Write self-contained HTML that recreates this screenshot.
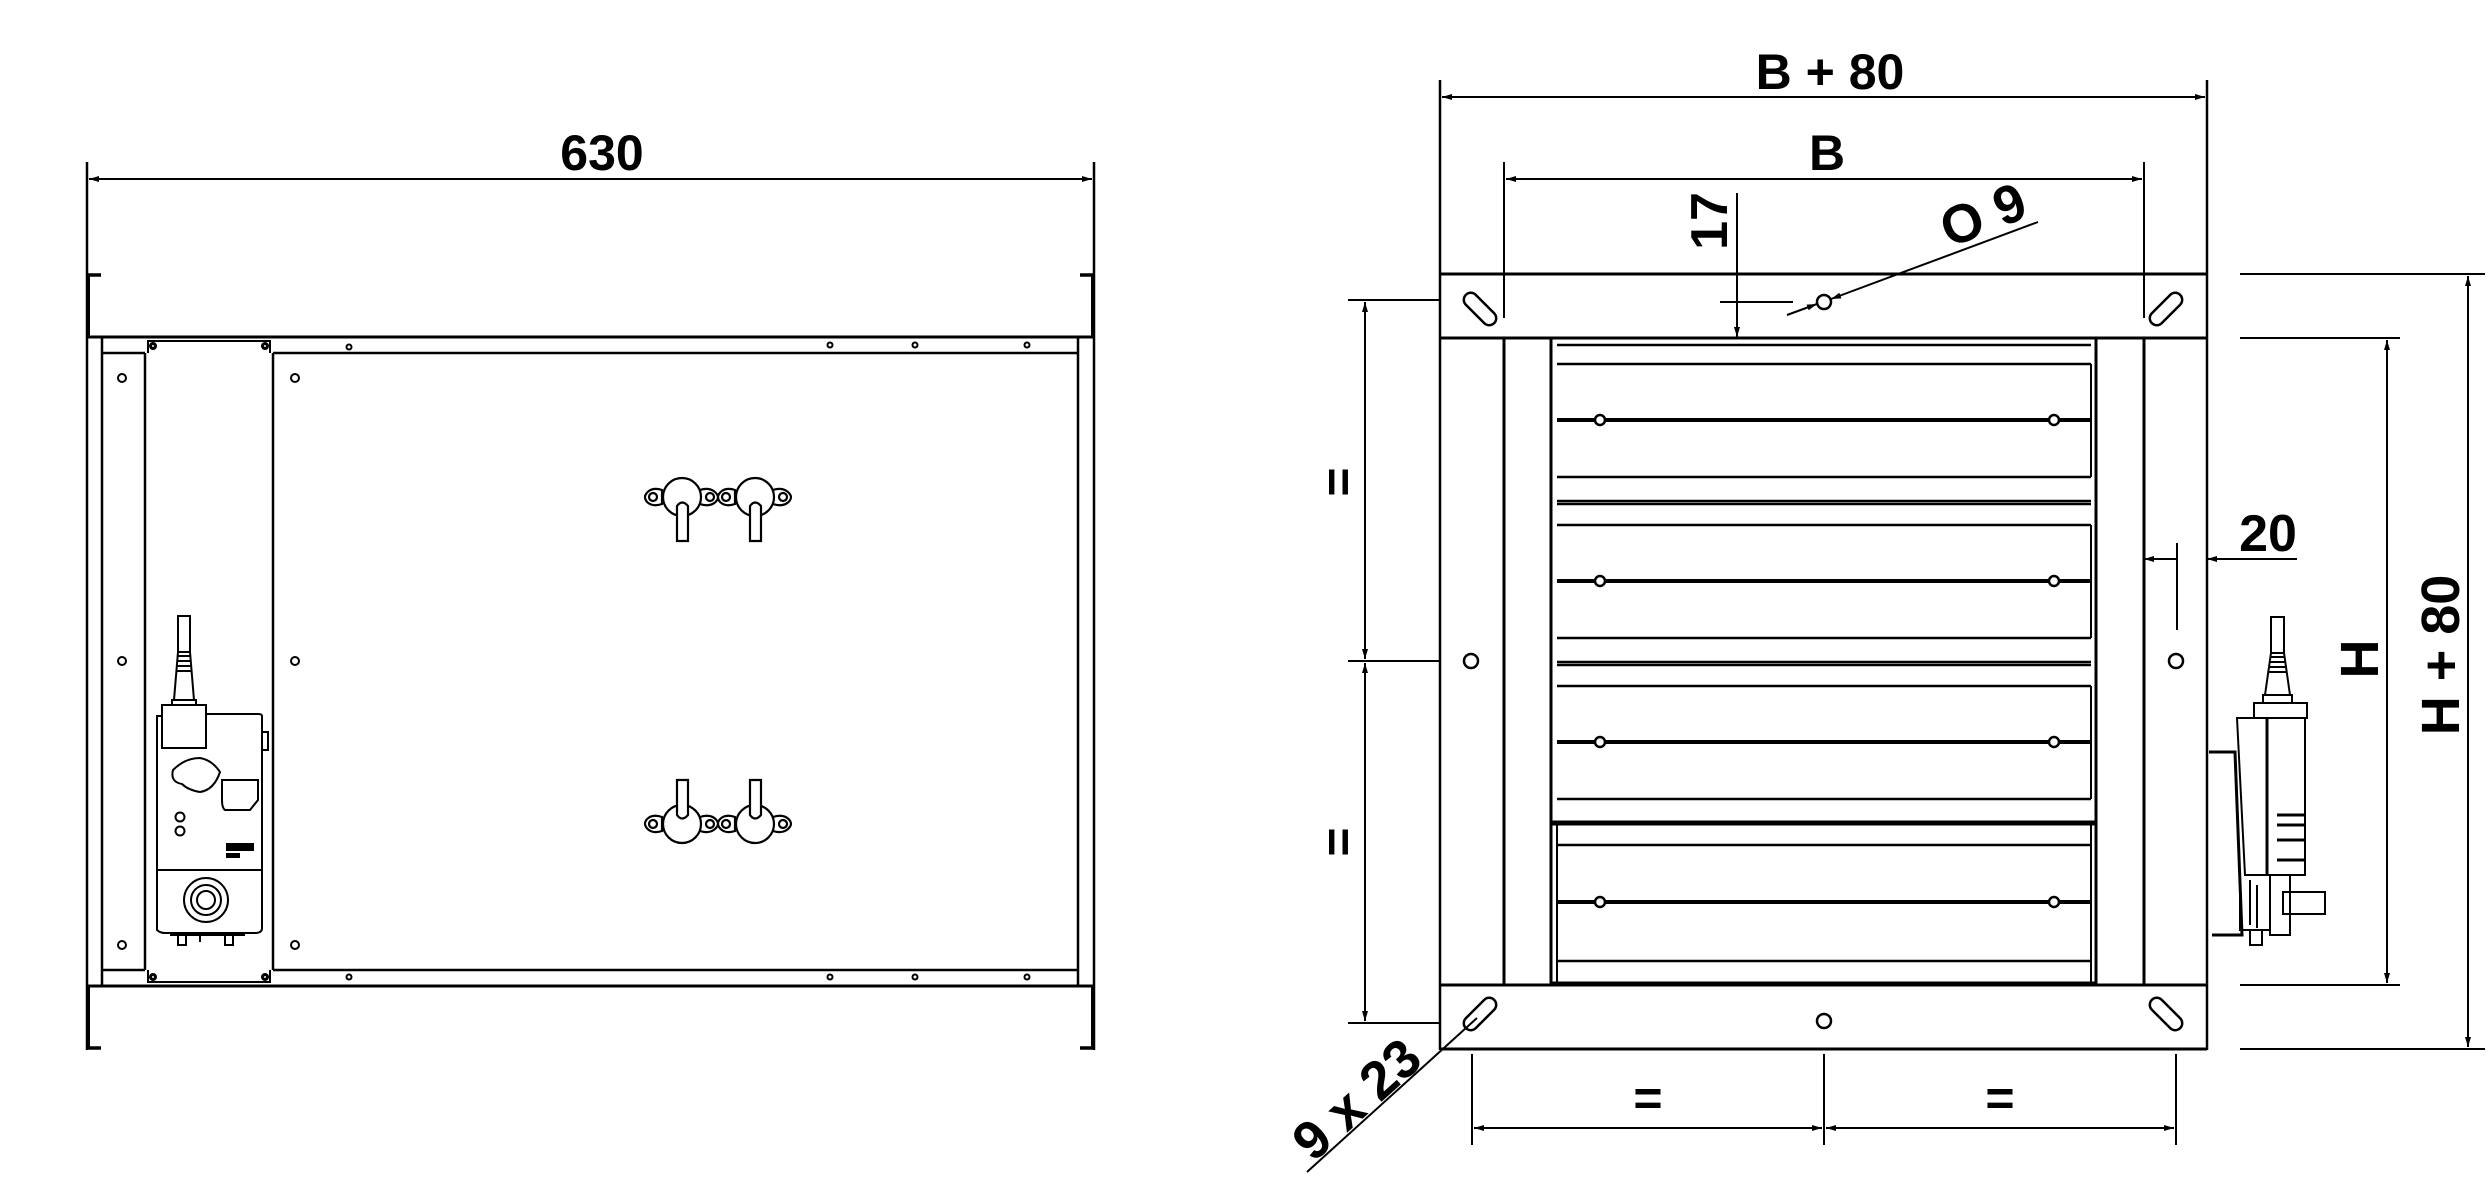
<!DOCTYPE html>
<html><head><meta charset="utf-8"><style>
html,body{margin:0;padding:0;background:#fff;}
svg{display:block;}
text{font-family:"Liberation Sans",sans-serif;font-weight:bold;fill:#000;}
</style></head><body>
<svg width="2490" height="1179" viewBox="0 0 2490 1179" xmlns="http://www.w3.org/2000/svg">
<defs>
<marker id="a" viewBox="0 0 10 6" refX="10" refY="3" markerWidth="16" markerHeight="6" markerUnits="userSpaceOnUse" orient="auto-start-reverse"><path d="M0,0 L10,3 L0,6 z" fill="#000"/></marker>
</defs>
<g stroke="#000" stroke-width="2.5" fill="none">
<!-- ===== LEFT VIEW ===== -->
<line x1="87" y1="162" x2="87" y2="1050"/>
<line x1="1094" y1="162" x2="1094" y2="1050"/>
<line x1="89" y1="179" x2="1092" y2="179" stroke-width="2" marker-start="url(#a)" marker-end="url(#a)"/>
<path d="M87,275 H101 M87,1048 H101 M1094,275 H1080 M1094,1048 H1080" stroke-width="3.5"/>
<line x1="88" y1="275" x2="88" y2="337" stroke-width="4"/>
<line x1="1093" y1="275" x2="1093" y2="337" stroke-width="4"/>
<line x1="88" y1="986" x2="88" y2="1048" stroke-width="4"/>
<line x1="1093" y1="986" x2="1093" y2="1048" stroke-width="4"/>
<line x1="87" y1="337" x2="1094" y2="337" stroke-width="3"/>
<line x1="87" y1="986" x2="1094" y2="986" stroke-width="3"/>
<line x1="102" y1="337" x2="102" y2="986"/>
<line x1="1078" y1="337" x2="1078" y2="986"/>
<path d="M102,353 H145 M273,353 H1078 M102,970 H145 M273,970 H1078"/>
<path d="M145,353 V970 M273,353 V970"/>
<path d="M148,353 V341 H270 V353 M148,970 V982 H270 V970" stroke-width="2"/>
<g stroke-width="2">
<circle cx="122" cy="378" r="4"/><circle cx="122" cy="661" r="4"/><circle cx="122" cy="945" r="4"/>
<circle cx="295" cy="378" r="4"/><circle cx="295" cy="661" r="4"/><circle cx="295" cy="945" r="4"/>
<circle cx="349" cy="347" r="2.5"/><circle cx="830" cy="345" r="2.5"/><circle cx="915" cy="345" r="2.5"/><circle cx="1027" cy="345" r="2.5"/>
<circle cx="349" cy="977" r="2.5"/><circle cx="830" cy="977" r="2.5"/><circle cx="915" cy="977" r="2.5"/><circle cx="1027" cy="977" r="2.5"/>
<circle cx="153" cy="346" r="2.5" stroke-width="3"/><circle cx="265" cy="346" r="2.5" stroke-width="3"/>
<circle cx="153" cy="977" r="2.5" stroke-width="3"/><circle cx="265" cy="977" r="2.5" stroke-width="3"/>
</g>
<!-- knobs -->
<g id="k" stroke-width="2.2">
<path d="M662,490 C650,486 645,494 645,497 C645,501 650,508 662,504 Z M700,490 C712,486 718,494 718,497 C718,501 712,508 700,504 Z" fill="#fff"/>
<circle cx="653" cy="497" r="4"/><circle cx="710" cy="497" r="4"/>
<circle cx="682" cy="497" r="19" fill="#fff"/>
<path d="M677,541 V506 Q682,499 688,506 V541 Z" fill="#fff"/>
</g>
<use href="#k" x="73"/>
<g transform="translate(0,1321) scale(1,-1)"><use href="#k"/><use href="#k" x="73"/></g>
<!-- actuator left -->
<g stroke-width="2">
<rect x="178" y="616" width="12" height="36"/>
<path d="M178,652 H190 L194,700 H174 Z"/>
<path d="M178,656 H190 M177,661 H191 M177,666 H191 M176,671 H192"/>
<path d="M172,700 H196 V705 H172 Z"/>
<rect x="162" y="705" width="44" height="43"/>
<path d="M162,716 H157 V930 Q160,933 165,933 H255 Q262,933 262,928 V716 Q262,714 258,714 H206"/>
<path d="M262,732 H268 V750 H262"/>
<path d="M173,770 Q185,758 200,758 Q212,760 220,772 Q214,790 200,792 Q188,790 182,784 Q170,782 173,770 Z"/>
<path d="M222,780 H258 V800 L250,810 H225 Q222,808 222,800 Z"/>
<circle cx="180" cy="817" r="4.5"/><circle cx="180" cy="831" r="4.5"/>
<path d="M157,870 H262"/>
<circle cx="206" cy="900" r="22"/><circle cx="206" cy="900" r="15"/><circle cx="206" cy="900" r="9"/>
<path d="M170,935 H245 M178,935 V945 H186 V935 M200,935 V942 M225,935 V945 H233 V935"/>
</g>
<rect x="226" y="843" width="28" height="8" fill="#000" stroke="none"/>
<rect x="226" y="853" width="14" height="5" fill="#000" stroke="none"/>
<!-- ===== RIGHT VIEW ===== -->
<line x1="1440" y1="80" x2="1440" y2="1050"/>
<line x1="2207" y1="80" x2="2207" y2="1050"/>
<line x1="1442" y1="97" x2="2205" y2="97" stroke-width="2" marker-start="url(#a)" marker-end="url(#a)"/>
<line x1="1504" y1="162" x2="1504" y2="318" stroke-width="2"/>
<line x1="2144" y1="162" x2="2144" y2="318" stroke-width="2"/>
<line x1="1506" y1="179" x2="2142" y2="179" stroke-width="2" marker-start="url(#a)" marker-end="url(#a)"/>
<path d="M1440,274 H2207 M1440,338 H2207 M1440,985 H2207 M1440,1049 H2207" stroke-width="3"/>
<path d="M1504,338 V985 M2144,338 V985" stroke-width="3"/>
<path d="M1551,338 V985 M2096,338 V985" stroke-width="3"/>
<path d="M1557,345 H2091 M1557,364 H2091" stroke-width="2.5"/>
<g stroke-width="2.5">
<path d="M1557,477 H2091 M1557,525 H2091 M1557,638 H2091 M1557,686 H2091 M1557,799 H2091 M1557,845 H2091 M1557,961 H2091"/>
<path d="M1557,501 H2091 M1557,504 H2091 M1557,662 H2091 M1557,665 H2091" stroke-width="2.5"/>
<path d="M1551,823 H2096" stroke-width="5"/>
<path d="M1557,823 V985 M2091,823 V985 M2091,364 V477 M2091,525 V638 M2091,686 V799" stroke-width="2"/>
<path d="M1551,984 H2096" stroke-width="5"/>
<path d="M1557,420 H2091 M1557,581 H2091 M1557,742 H2091 M1557,902 H2091" stroke-width="4"/>
</g>
<g stroke-width="2.5" fill="#fff">
<circle cx="1600" cy="420" r="5"/><circle cx="2054" cy="420" r="5"/>
<circle cx="1600" cy="581" r="5"/><circle cx="2054" cy="581" r="5"/>
<circle cx="1600" cy="742" r="5"/><circle cx="2054" cy="742" r="5"/>
<circle cx="1600" cy="902" r="5"/><circle cx="2054" cy="902" r="5"/>
</g>
<!-- slots -->
<g stroke-width="2.5">
<rect x="-20" y="-7" width="40" height="14" rx="7" transform="translate(1480,309) rotate(45)"/>
<rect x="-20" y="-7" width="40" height="14" rx="7" transform="translate(2166,309) rotate(-45)"/>
<rect x="-20" y="-7" width="40" height="14" rx="7" transform="translate(1480,1014) rotate(-45)"/>
<rect x="-20" y="-7" width="40" height="14" rx="7" transform="translate(2166,1014) rotate(45)"/>
<circle cx="1471" cy="661" r="7"/><circle cx="2176" cy="661" r="7"/>
<circle cx="1824" cy="1021" r="7"/><circle cx="1824" cy="302" r="7"/>
</g>
<!-- dims -->
<g stroke-width="2">
<path d="M1348,300 H1440 M1348,661 H1440 M1348,1023 H1440"/>
<line x1="1365" y1="302" x2="1365" y2="659" marker-start="url(#a)" marker-end="url(#a)"/>
<line x1="1365" y1="663" x2="1365" y2="1021" marker-start="url(#a)" marker-end="url(#a)"/>
<path d="M1472,1054 V1145 M1824,1054 V1145 M2176,1054 V1145"/>
<line x1="1474" y1="1128" x2="1822" y2="1128" marker-start="url(#a)" marker-end="url(#a)"/>
<line x1="1826" y1="1128" x2="2174" y2="1128" marker-start="url(#a)" marker-end="url(#a)"/>
<path d="M2240,274 H2485 M2240,1049 H2485 M2240,338 H2400 M2240,985 H2400"/>
<line x1="2387" y1="340" x2="2387" y2="983" marker-start="url(#a)" marker-end="url(#a)"/>
<line x1="2468" y1="276" x2="2468" y2="1047" marker-start="url(#a)" marker-end="url(#a)"/>
<line x1="2144" y1="559" x2="2177" y2="559" marker-start="url(#a)"/>
<line x1="2207" y1="559" x2="2297" y2="559" marker-start="url(#a)"/>
<line x1="2177" y1="543" x2="2177" y2="630"/>
<line x1="1737" y1="193" x2="1737" y2="337" marker-end="url(#a)"/>
<line x1="1720" y1="302" x2="1793" y2="302"/>
<line x1="2038" y1="222" x2="1831" y2="299" marker-end="url(#a)"/>
<line x1="1787" y1="315" x2="1817" y2="304" marker-end="url(#a)"/>
<line x1="1307" y1="1172" x2="1477" y2="1018"/>
</g>
<!-- actuator right -->
<g stroke-width="2">
<rect x="2271" y="617" width="13" height="36"/>
<path d="M2271,653 H2284 L2290,695 H2265 Z"/>
<path d="M2270,657 H2285 M2269,662 H2286 M2269,667 H2286 M2268,672 H2287"/>
<path d="M2263,695 H2292 V703 H2263 Z"/>
<rect x="2254" y="703" width="53" height="15"/>
<path d="M2237,718 H2305 V875 H2245 Z"/>
<line x1="2267" y1="718" x2="2267" y2="875" stroke-width="3"/>
<path d="M2209,752 H2235 L2242,935 H2212" stroke-width="3"/>
<path d="M2277,815 H2305 M2277,825 H2305 M2277,840 H2305 M2277,860 H2305" stroke-width="3"/>
<path d="M2240,875 V930 H2270 V875 M2270,875 V935 H2290 V875"/>
<rect x="2283" y="892" width="42" height="22"/>
<path d="M2250,880 V925 M2257,885 V928 M2244,930 H2262 V945 H2250 V930"/>
</g>
</g>
<!-- TEXT -->
<text x="602" y="170" font-size="50" text-anchor="middle">630</text>
<text x="1830" y="89" font-size="50" text-anchor="middle">B + 80</text>
<text x="1827" y="170" font-size="50" text-anchor="middle">B</text>
<text x="2268" y="551" font-size="52" text-anchor="middle">20</text>
<text transform="translate(1727,221) rotate(-90)" font-size="52" text-anchor="middle">17</text>
<text transform="translate(1990,232) rotate(-22)" font-size="54" text-anchor="middle">O 9</text>
<text transform="translate(1369,1113) rotate(-42)" font-size="54" text-anchor="middle">9 x 23</text>
<text transform="translate(2378,659) rotate(-90)" font-size="54" text-anchor="middle">H</text>
<text transform="translate(2459,655) rotate(-90)" font-size="54" text-anchor="middle">H + 80</text>
<text transform="translate(1322,482) rotate(90)" font-size="50" text-anchor="middle">=</text>
<text transform="translate(1322,842) rotate(90)" font-size="50" text-anchor="middle">=</text>
<text x="1648" y="1115" font-size="50" text-anchor="middle">=</text>
<text x="2000" y="1115" font-size="50" text-anchor="middle">=</text>
</svg>
</body></html>
